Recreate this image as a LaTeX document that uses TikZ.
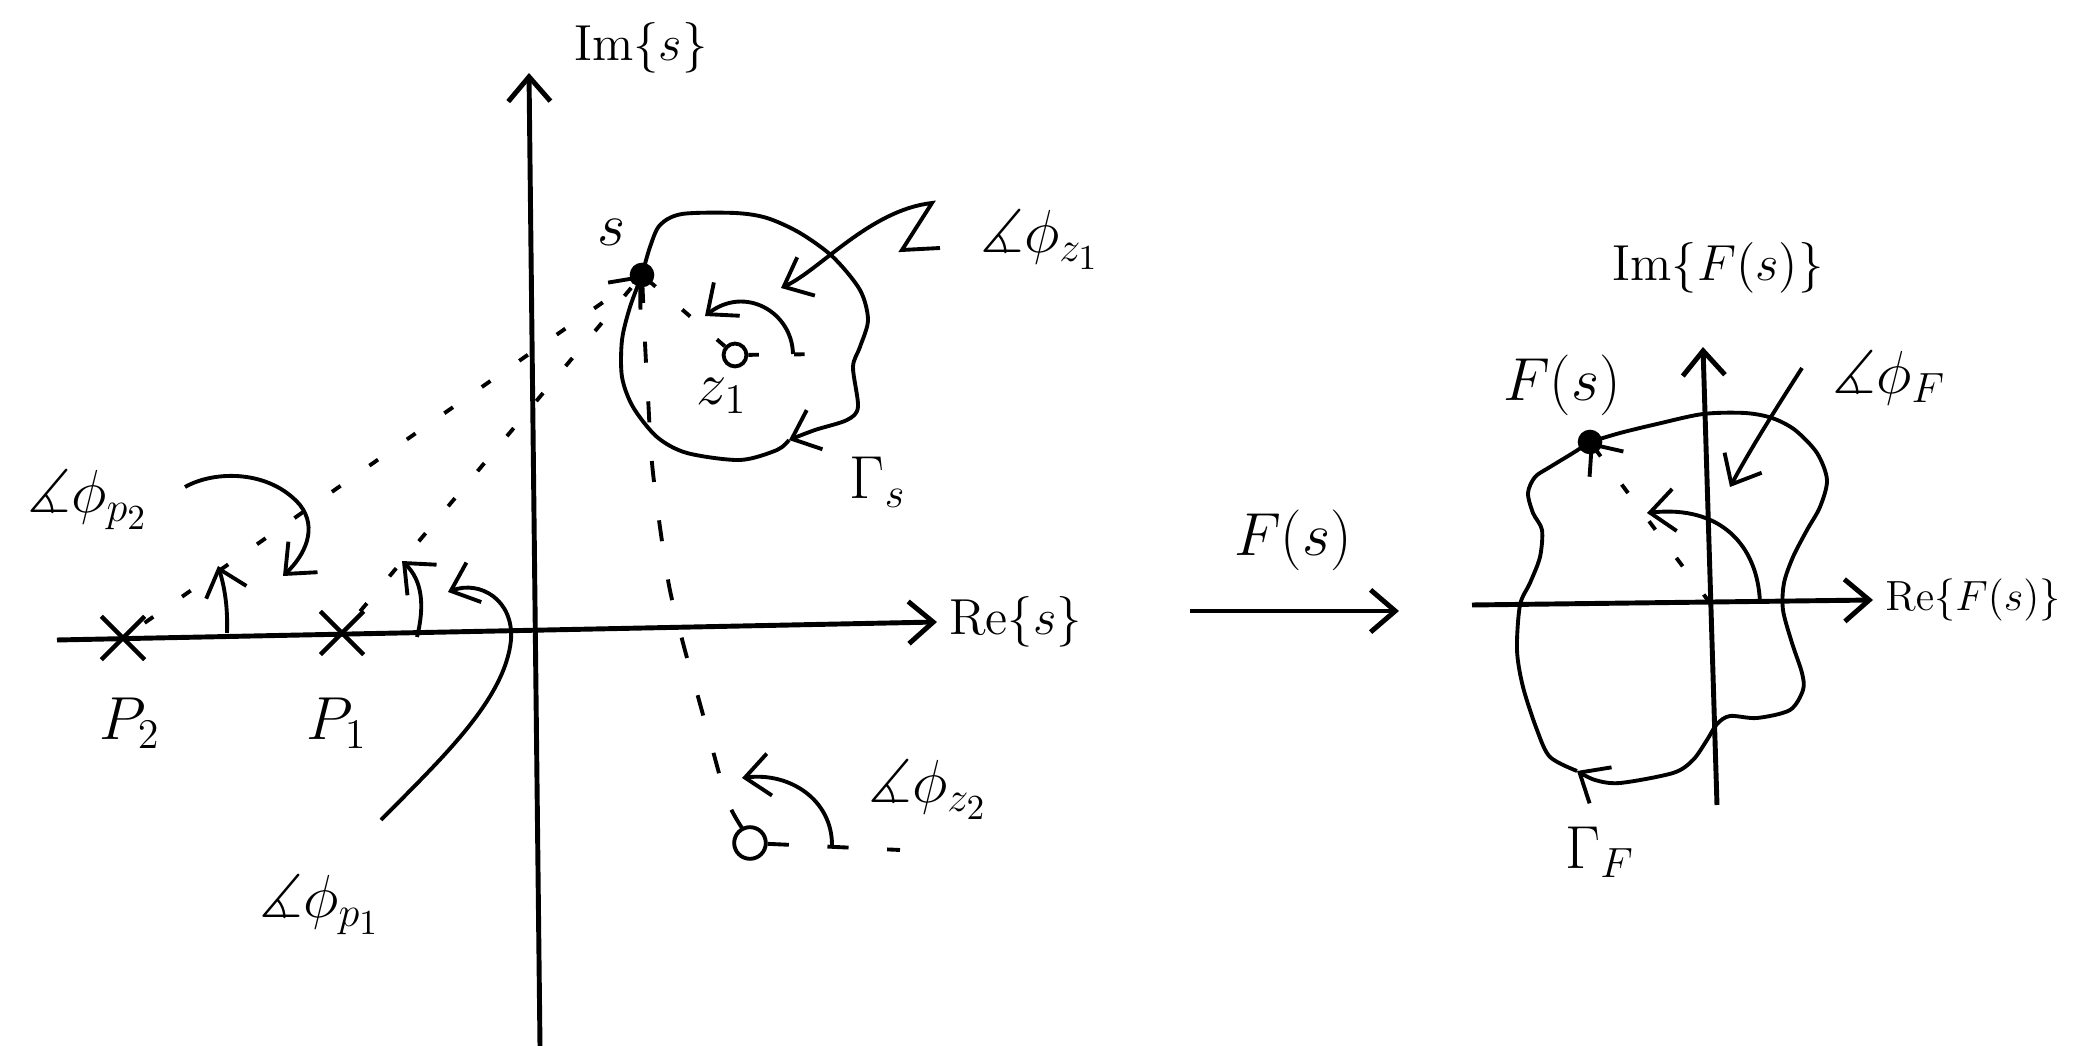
\documentclass[tikz,border=0pt]{standalone}
\usepackage{amsmath}
\usepackage{amssymb}
\usepackage{tikz}
\usetikzlibrary{arrows.meta}
\usetikzlibrary{shapes.misc}

\begin{document}
\begin{tikzpicture}[x=0.01cm,y=-0.01cm,
        >={Straight Barb[length=7pt,width=12pt]},
        every node/.style={font=\LARGE},
        axis/.style={line width=1.4pt,->},
        curve/.style={line width=1.1pt},
        ray/.style={line width=1.1pt,dash pattern=on 3pt off 10pt},
        longray/.style={line width=1.1pt,dash pattern=on 6pt off 11pt},
        pole/.style={cross out,draw,line width=1.3pt,minimum size=11pt,inner sep=0pt},
        zero/.style={circle,draw,line width=1.1pt,inner sep=0pt}]
        \useasboundingbox (0,0) rectangle (2074,1046);
        % s-plane
        \coordinate (reS0) at (57,640);
        \coordinate (reS1) at (937,622);
        \coordinate (imS0) at (540,1046);
        \coordinate (imS1) at (529,73);
        \draw[axis] (reS0) -- (reS1);
        \draw[axis] (imS0) -- (imS1);
        \node[anchor=west,font=\Large] (reS) at (reS1) {$\mathrm{Re}\{s\}$};
        \node[font=\Large] (imS) at (641,48) {$\mathrm{Im}\{s\}$};
        \foreach \n/\x/\y/\lx in {1/342/633/337,2/123/638/130}{
            \node[pole] (p\n) at (\x,\y) {};
            \node (lab\n) at (\lx,723) {$P_\n$};
        }
        \coordinate (s) at (642,275);
        \node[zero,minimum size=6.5pt] (z1) at (735,355) {};
        \node[zero,minimum size=9pt] (z2) at (750,843) {};
        \coordinate (z1r) at (832,354);
        \coordinate (z2r) at (900,850);
        \draw[ray] (p2) -- (s);
        \draw[ray,->] (p1) -- (s);
        \draw[ray] (z1) -- (s);
        \draw[ray] (z1) -- (z1r);
        \draw[longray] (z2) -- (z2r);
        \draw[longray] plot[smooth] coordinates {(742,828) (727,800) (710,740) (697,693) (683,643) (668,580) (653,473) (648,397) (645,343) (s)};
        \coordinate (gs) at (789,440);
        \draw[curve,->] plot[smooth] coordinates {(s) (650,247) (660,225) (682,214) (735,213) (767,218) (800,233) (833,257) (860,290) (868,320) (860,347) (853,367) (858,407) (847,420) (815,430) (gs)};
        \draw[curve] plot[smooth] coordinates {(gs) (777,450) (740,460) (687,453) (657,437) (633,407) (622,377) (622,340) (630,307) (s)};
        \fill (s) circle (3.5pt);
        \node (slab) at (612,232) {$s$};
        \node (z1lab) at (722,396) {$z_1$};
        \node (gamS) at (878,482) {$\Gamma_s$};
        \draw[curve,->] (227,633) .. controls (228,605) and (224,585) .. (218,566);
        \draw[curve,->] (417,637) .. controls (425,605) and (422,580) .. (402,561);
        \draw[curve,->] (793,354) .. controls (792,312) and (745,285) .. (705,316);
        \draw[curve,->] (832,845) .. controls (832,800) and (790,772) .. (742,778);
        \node (angP2) at (88,500) {$\measuredangle\phi_{p_2}$};
        \draw[curve,->] (185,487) .. controls (215,470) and (270,470) .. (300,505) .. controls (318,528) and (305,555) .. (283,576);
        \node (angP1) at (320,905) {$\measuredangle\phi_{p_1}$};
        \draw[curve,->] (381,820) .. controls (440,760) and (505,700) .. (511,640) .. controls (514,600) and (480,580) .. (448,592);
        \node (angZ1) at (1040,240) {$\measuredangle\phi_{z_1}$};
        \draw[curve,->] (940,248) -- (902,250) -- (932,203) .. controls (870,210) and (820,270) .. (781,288);
        \node (angZ2) at (928,790) {$\measuredangle\phi_{z_2}$};
        % mapping
        \coordinate (mapA) at (1190,611);
        \coordinate (mapB) at (1399,611);
        \draw[axis] (mapA) -- (mapB);
        \node (mapLab) at (1293,540) {$F(s)$};
        % F-plane
        \coordinate (reF0) at (1472,605);
        \coordinate (reF1) at (1873,600);
        \coordinate (imF0) at (1717,805);
        \coordinate (imF1) at (1703,347);
        \coordinate (oF) at (1710,603);
        \draw[axis] (reF0) -- (reF1);
        \draw[axis] (imF0) -- (imF1);
        \node[anchor=west,font=\large] (reF) at (reF1) {$\mathrm{Re}\{F(s)\}$};
        \node[font=\Large] (imF) at (1718,268) {$\mathrm{Im}\{F(s)\}$};
        \coordinate (Fs) at (1590,442);
        \draw[ray,->] (oF) -- (Fs);
        \coordinate (gf) at (1577,771);
        \draw[curve,->] plot[smooth] coordinates {(Fs) (1620,433) (1657,424) (1703,414) (1745,413) (1772,418) (1795,430) (1817,453) (1827,480) (1820,507) (1807,530) (1793,557) (1784,583) (1783,610) (1792,643) (1802,673) (1803,690) (1790,710) (1757,718) (1730,716) (1717,724) (1707,740) (1693,760) (1673,773) (1620,783) (1595,780) (gf)};
        \draw[curve] plot[smooth] coordinates {(gf) (1550,757) (1537,730) (1523,687) (1517,650) (1520,605) (1530,583) (1540,557) (1542,530) (1533,513) (1528,493) (1535,477) (1550,467) (1573,453) (Fs)};
        \fill (Fs) circle (3.5pt);
        \node (Fslab) at (1562,385) {$F(s)$};
        \node (gamF) at (1600,852) {$\Gamma_F$};
        \draw[curve,->] (1760,603) .. controls (1758,545) and (1720,505) .. (1647,513);
        \node[anchor=west] (angF) at (1820,378) {$\measuredangle\phi_F$};
        \draw[curve,->] (1802,368) .. controls (1775,410) and (1750,450) .. (1730,487);
\end{tikzpicture}
\end{document}
